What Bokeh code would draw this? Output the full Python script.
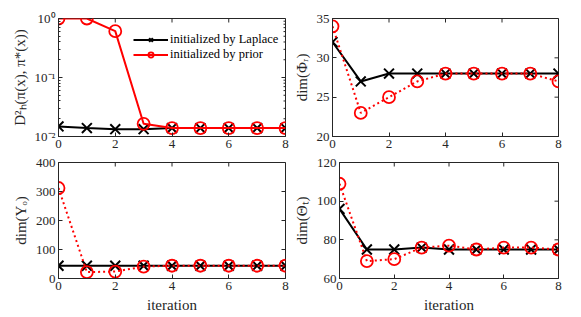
import math
from bokeh.plotting import figure
from bokeh.layouts import column, row
from bokeh.models import Range1d, FixedTicker, CustomJSTickFormatter
from bokeh.embed import file_html
from bokeh.resources import INLINE

iterations = [0, 1, 2, 3, 4, 5, 6, 7, 8]
hell_laplace = [0.0148, 0.0139, 0.0133, 0.0133, 0.0139, 0.0139, 0.0139, 0.0139, 0.0139]
hell_prior = [1.0, 1.0, 0.61, 0.0164, 0.0139, 0.0139, 0.0139, 0.0139, 0.0139]
phi_laplace = [32, 27, 28, 28, 28, 28, 28, 28, 28]
phi_prior = [34, 23, 25, 27, 28, 28, 28, 28, 27]
ups_laplace = [44, 44, 44, 44, 44, 44, 44, 44, 44]
ups_prior = [312, 22, 24, 41, 44, 44, 44, 44, 44]
theta_laplace = [96, 75, 75, 76, 75, 75, 75, 75, 75]
theta_prior = [109, 69, 70, 76, 77, 75, 76, 76, 75]
x_ticks = [0, 2, 4, 6, 8]
log_major = [0.01, 0.1, 1.0]
log_minor = [0.02, 0.03, 0.04, 0.05, 0.06, 0.07, 0.08, 0.09,
             0.2, 0.3, 0.4, 0.5, 0.6, 0.7, 0.8, 0.9]
label_laplace = "initialized by Laplace"
label_prior = "initialized by prior"

FONT = "Liberation Serif"
GREY = "#262626"
RED = "#FF0000"


def style_axis(ax, log=False):
    ax.axis_line_color = GREY
    ax.axis_line_width = 1
    ax.major_tick_line_color = GREY
    ax.major_tick_in = 4
    ax.major_tick_out = 0
    if log:
        ax.minor_tick_line_color = GREY
        ax.minor_tick_in = 2
        ax.minor_tick_out = 0
    else:
        ax.minor_tick_line_color = None
    ax.major_label_text_font = FONT
    ax.major_label_text_color = GREY
    ax.major_label_text_font_size = "13px"
    ax.major_label_standoff = 3
    ax.axis_label_text_font = FONT
    ax.axis_label_text_color = GREY
    ax.axis_label_text_font_style = "normal"
    ax.axis_label_text_font_size = "15px"
    ax.axis_label_standoff = 4


def make_fig(width, height, y0, y1, yticks, ylabel, xlabel, borders, log=False):
    kw = dict(width=width, height=height, output_backend="svg", toolbar_location=None,
              x_range=Range1d(0, 8), y_range=Range1d(y0, y1),
              min_border_left=borders[0], min_border_right=borders[1],
              min_border_top=borders[2], min_border_bottom=borders[3])
    if log:
        kw["y_axis_type"] = "log"
    p = figure(**kw)
    p.xgrid.grid_line_color = None
    p.ygrid.grid_line_color = None
    p.outline_line_color = GREY
    p.background_fill_color = "white"
    p.border_fill_color = "white"
    p.xaxis.ticker = FixedTicker(ticks=x_ticks)
    if log:
        p.yaxis.ticker = FixedTicker(ticks=log_major, minor_ticks=log_minor)
        p.yaxis.formatter = CustomJSTickFormatter(code="""
            const sup = {'-':'\u207b','0':'\u2070','1':'\u00b9','2':'\u00b2','3':'\u00b3',
                         '4':'\u2074','5':'\u2075','6':'\u2076','7':'\u2077','8':'\u2078','9':'\u2079'};
            const e = Math.round(Math.log10(tick));
            return '10' + String(e).split('').map(c => sup[c]).join('');
        """)
    else:
        p.yaxis.ticker = FixedTicker(ticks=yticks)
    p.xaxis.axis_label = xlabel
    p.yaxis.axis_label = ylabel
    for ax in p.xaxis:
        style_axis(ax)
    for ax in p.yaxis:
        style_axis(ax, log=log)
    # mirrored inward ticks on the top and right edges of the box
    p.ray(x=x_ticks, y=[y1] * len(x_ticks), length=4, angle=-math.pi / 2,
          length_units="screen", line_color=GREY, line_width=1)
    rt = log_major if log else yticks
    p.ray(x=[8] * len(rt), y=rt, length=4, angle=math.pi,
          length_units="screen", line_color=GREY, line_width=1)
    if log:
        p.ray(x=[8] * len(log_minor), y=log_minor, length=2, angle=math.pi,
              length_units="screen", line_color=GREY, line_width=1)
    return p


def draw(p, yl, yp, prior_dash, legend=False):
    lk = dict(legend_label=label_laplace) if legend else {}
    pk = dict(legend_label=label_prior) if legend else {}
    p.line(iterations, yl, line_color="black", line_width=2, **lk)
    p.scatter(iterations, yl, marker="x", size=14, line_color="black", line_width=2, **lk)
    p.line(iterations, yp, line_color=RED, line_width=2, line_dash=prior_dash, **pk)
    p.scatter(iterations, yp, marker="circle", size=12, fill_color=None,
              line_color=RED, line_width=1.8, **pk)


p1 = make_fig(290, 155, 0.01, 1.0, None, "D\u00b2\u2095(\u03c0(x), \u03c0*(x))", None,
              (58, 5, 18, 19), log=True)
draw(p1, hell_laplace, hell_prior, "solid", legend=True)
p1.legend.location = (75, 74)
p1.legend.label_text_font = FONT
p1.legend.label_text_font_size = "12.5px"
p1.legend.label_text_color = "black"
p1.legend.glyph_width = 35
p1.legend.glyph_height = 13
p1.legend.label_height = 13
p1.legend.label_standoff = 2
p1.legend.spacing = 0
p1.legend.padding = 2
p1.legend.margin = 0
p1.legend.border_line_color = None
p1.legend.background_fill_alpha = 0

p2 = make_fig(291, 155, 20, 35, [20, 25, 30, 35], "dim(\u03a6\u1d63)", None, (41, 23, 18, 19))
draw(p2, phi_laplace, phi_prior, "2 3")

p3 = make_fig(290, 162, 0, 400, [0, 100, 200, 300, 400], "dim(\u03a5\u2092)", "iteration",
              (58, 5, 7, 39))
draw(p3, ups_laplace, ups_prior, "2 3")

p4 = make_fig(291, 162, 60, 120, [60, 80, 100, 120], "dim(\u0398\u209c)", "iteration",
              (41, 23, 7, 39))
draw(p4, theta_laplace, theta_prior, "2 3")

layout = column(row(p1, p2), row(p3, p4))
open("out.html", "w").write(file_html(layout, INLINE))
